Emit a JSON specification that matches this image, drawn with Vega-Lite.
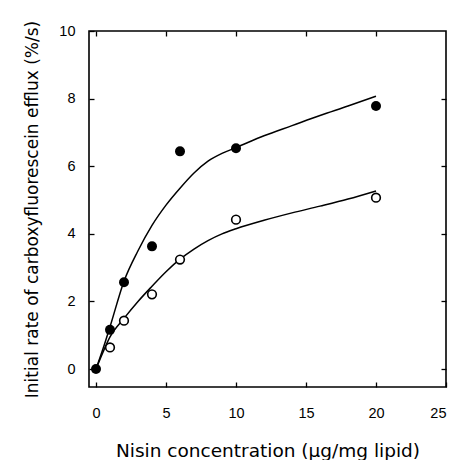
{
  "$schema": "https://vega.github.io/schema/vega-lite/v6.json",
  "width": 357,
  "height": 356,
  "autosize": "none",
  "padding": {"left": 89, "top": 31, "right": 14, "bottom": 73},
  "background": "white",
  "config": {
    "font": "Liberation Sans",
    "view": {"stroke": "black", "strokeWidth": 1.6},
    "axis": {
      "grid": false,
      "domain": false,
      "tickColor": "black",
      "tickSize": -5,
      "tickWidth": 1.3,
      "labelColor": "black",
      "labelFont": "Liberation Sans",
      "labelFontSize": 14.5,
      "titleFont": "DejaVu Sans",
      "titleFontSize": 18.5,
      "titleFontWeight": "normal",
      "titleColor": "black"
    }
  },
  "datasets": {
    "curves": [
      {"series": "filled", "x": 0, "y": 0},
      {"series": "filled", "x": 0.5, "y": 0.6},
      {"series": "filled", "x": 1, "y": 1.25},
      {"series": "filled", "x": 2, "y": 2.6},
      {"series": "filled", "x": 3, "y": 3.5},
      {"series": "filled", "x": 4, "y": 4.25},
      {"series": "filled", "x": 5, "y": 4.85},
      {"series": "filled", "x": 6, "y": 5.35},
      {"series": "filled", "x": 7, "y": 5.8},
      {"series": "filled", "x": 8, "y": 6.15},
      {"series": "filled", "x": 9, "y": 6.38},
      {"series": "filled", "x": 10, "y": 6.55},
      {"series": "filled", "x": 12, "y": 6.9},
      {"series": "filled", "x": 14, "y": 7.2},
      {"series": "filled", "x": 16, "y": 7.5},
      {"series": "filled", "x": 18, "y": 7.78},
      {"series": "filled", "x": 20, "y": 8.07},
      {"series": "open", "x": 0, "y": 0},
      {"series": "open", "x": 0.5, "y": 0.5},
      {"series": "open", "x": 1, "y": 0.95},
      {"series": "open", "x": 2, "y": 1.5},
      {"series": "open", "x": 3, "y": 2.0},
      {"series": "open", "x": 4, "y": 2.45},
      {"series": "open", "x": 5, "y": 2.88},
      {"series": "open", "x": 6, "y": 3.25},
      {"series": "open", "x": 7, "y": 3.55},
      {"series": "open", "x": 8, "y": 3.8},
      {"series": "open", "x": 9, "y": 4.0},
      {"series": "open", "x": 10, "y": 4.15},
      {"series": "open", "x": 12, "y": 4.4},
      {"series": "open", "x": 14, "y": 4.62},
      {"series": "open", "x": 16, "y": 4.82},
      {"series": "open", "x": 18, "y": 5.03},
      {"series": "open", "x": 20, "y": 5.27}
    ],
    "points": [
      {"series": "open", "x": 1, "y": 0.64},
      {"series": "open", "x": 2, "y": 1.43},
      {"series": "open", "x": 4, "y": 2.21},
      {"series": "open", "x": 6, "y": 3.24},
      {"series": "open", "x": 10, "y": 4.42},
      {"series": "open", "x": 20, "y": 5.07},
      {"series": "filled", "x": 0, "y": 0},
      {"series": "filled", "x": 1, "y": 1.16},
      {"series": "filled", "x": 2, "y": 2.57},
      {"series": "filled", "x": 4, "y": 3.63},
      {"series": "filled", "x": 6, "y": 6.44},
      {"series": "filled", "x": 10, "y": 6.53},
      {"series": "filled", "x": 20, "y": 7.78}
    ]
  },
  "layer": [
    {
      "layer": [
        {
          "data": {"name": "curves"},
          "mark": {"type": "line", "color": "black", "strokeWidth": 1.5, "interpolate": "monotone"},
          "encoding": {
            "x": {
              "field": "x", "type": "quantitative",
              "scale": {"domain": [-0.5, 25], "nice": false, "zero": false},
              "axis": {"orient": "bottom", "values": [0, 5, 10, 15, 20, 25], "title": "Nisin concentration (µg/mg lipid)", "labelPadding": 24, "titlePadding": 22}
            },
            "y": {
              "field": "y", "type": "quantitative",
              "scale": {"domain": [-0.53, 10], "nice": false, "zero": false},
              "axis": {"orient": "left", "values": [0, 2, 4, 6, 8, 10], "title": "Initial rate of carboxyfluorescein efflux (%/s)", "titleFontSize": 17, "labelPadding": 19, "titlePadding": 17}
            },
            "detail": {"field": "series"}
          }
        },
        {
          "data": {"name": "points"},
          "transform": [{"filter": "datum.series === 'open'"}],
          "mark": {"type": "point", "shape": "circle", "filled": false, "fill": "white", "stroke": "black", "strokeWidth": 1.6, "size": 75, "opacity": 1},
          "encoding": {
            "x": {"field": "x", "type": "quantitative"},
            "y": {"field": "y", "type": "quantitative"}
          }
        },
        {
          "data": {"name": "points"},
          "transform": [{"filter": "datum.series === 'filled'"}],
          "mark": {"type": "point", "shape": "circle", "filled": true, "color": "black", "size": 100, "opacity": 1},
          "encoding": {
            "x": {"field": "x", "type": "quantitative"},
            "y": {"field": "y", "type": "quantitative"}
          }
        }
      ]
    },
    {
      "data": {"name": "points"},
      "mark": {"type": "point", "opacity": 0},
      "encoding": {
        "x": {"field": "x", "type": "quantitative", "scale": {"domain": [-0.5, 25], "nice": false, "zero": false}, "axis": {"orient": "top", "values": [0, 5, 10, 15, 20], "labels": false, "title": null}},
        "y": {"field": "y", "type": "quantitative", "scale": {"domain": [-0.53, 10], "nice": false, "zero": false}, "axis": {"orient": "right", "values": [0, 2, 4, 6, 8], "labels": false, "title": null}}
      }
    }
  ],
  "resolve": {"scale": {"x": "independent", "y": "independent"}}
}
